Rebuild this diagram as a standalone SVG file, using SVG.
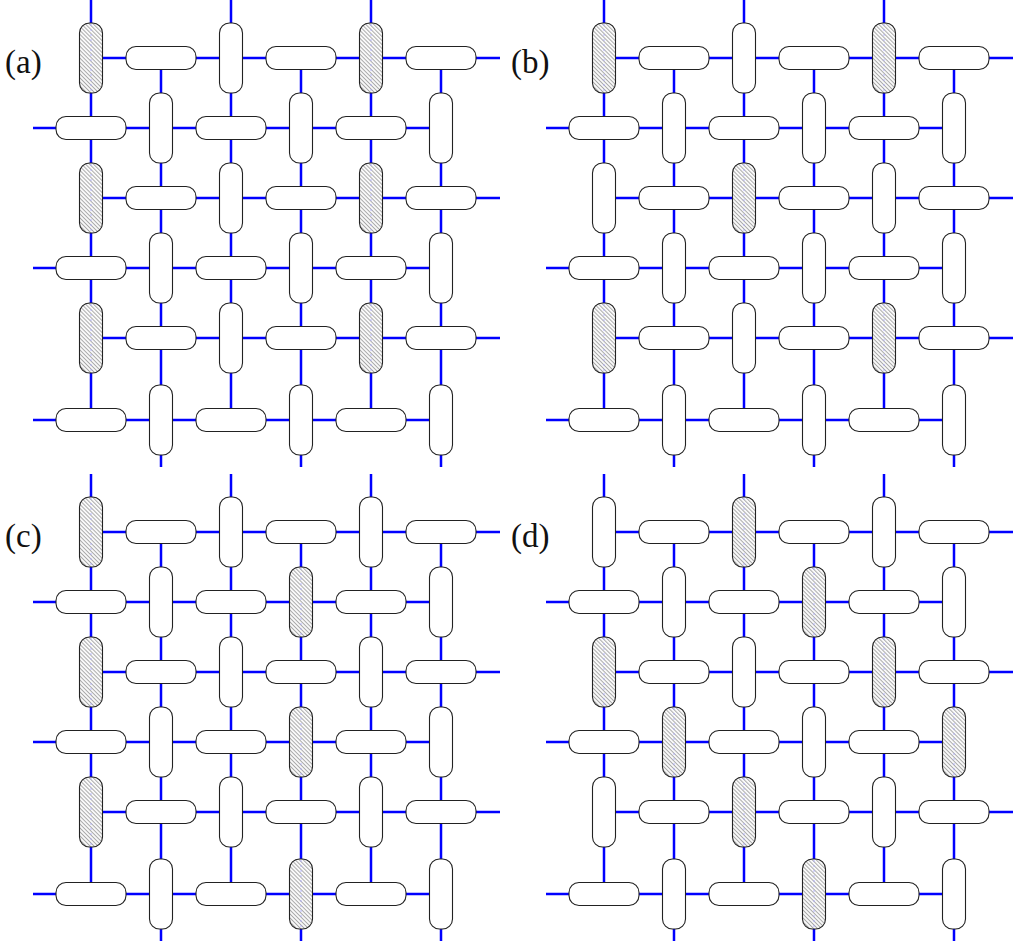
<svg xmlns="http://www.w3.org/2000/svg" xmlns:xlink="http://www.w3.org/1999/xlink" width="1013" height="944" viewBox="0 0 1013 944">
<style>
.w{fill:none;stroke:#0000ff;stroke-width:2.5}
.n{fill:#fff;stroke:#222;stroke-width:1.1}
.s{fill:url(#hatch);stroke:#222;stroke-width:1.1}
.f{fill:none;stroke:#a8a8ff;stroke-width:0.8;stroke-dasharray:2 3}
.lbl{font-family:"Liberation Serif","DejaVu Serif",serif;font-size:33px;fill:#111}
</style>
<defs>
<pattern id="hatch" patternUnits="userSpaceOnUse" width="2.8" height="2.8" patternTransform="rotate(-45)">
<rect width="2.8" height="2.8" fill="#fafafa"/>
<line x1="0.5" y1="0" x2="0.5" y2="2.8" stroke="#808080" stroke-width="0.65"/>
</pattern>
<rect id="h" x="-35" y="-11.5" width="70" height="23" rx="10"/>
<rect id="v" x="-11.5" y="-35" width="23" height="70" rx="10"/>
<path id="grid" d="M91 58H500M91 198H500M91 338H500M33 128H441M33 268H441M33 420H441M91 0V420M231 0V420M371 0V420M161 58V467M301 58V467M441 58V467"/>
</defs>
<rect width="1013" height="944" fill="#fff"/>
<g id="connectors">
<use href="#grid" class="w"/>
<use href="#grid" class="w" transform="translate(513,0)"/>
<use href="#grid" class="w" transform="translate(0,474)"/>
<use href="#grid" class="w" transform="translate(513,474)"/>
</g>
<g id="labels">
<text class="lbl" x="5" y="73">(a)</text>
<text class="lbl" x="511" y="73">(b)</text>
<text class="lbl" x="5" y="547">(c)</text>
<text class="lbl" x="511" y="547">(d)</text>
</g>
<g id="panel-a">
<g id="a00"><use href="#v" x="91" y="58" class="s"/><path class="f" d="M91 24V92"/></g>
<g id="a01"><use href="#h" x="161" y="58" class="n"/></g>
<g id="a02"><use href="#v" x="231" y="58" class="n"/></g>
<g id="a03"><use href="#h" x="301" y="58" class="n"/></g>
<g id="a04"><use href="#v" x="371" y="58" class="s"/><path class="f" d="M371 24V92"/></g>
<g id="a05"><use href="#h" x="441" y="58" class="n"/></g>
<g id="a10"><use href="#h" x="91" y="128" class="n"/></g>
<g id="a11"><use href="#v" x="161" y="128" class="n"/></g>
<g id="a12"><use href="#h" x="231" y="128" class="n"/></g>
<g id="a13"><use href="#v" x="301" y="128" class="n"/></g>
<g id="a14"><use href="#h" x="371" y="128" class="n"/></g>
<g id="a15"><use href="#v" x="441" y="128" class="n"/></g>
<g id="a20"><use href="#v" x="91" y="198" class="s"/><path class="f" d="M91 164V232"/></g>
<g id="a21"><use href="#h" x="161" y="198" class="n"/></g>
<g id="a22"><use href="#v" x="231" y="198" class="n"/></g>
<g id="a23"><use href="#h" x="301" y="198" class="n"/></g>
<g id="a24"><use href="#v" x="371" y="198" class="s"/><path class="f" d="M371 164V232"/></g>
<g id="a25"><use href="#h" x="441" y="198" class="n"/></g>
<g id="a30"><use href="#h" x="91" y="268" class="n"/></g>
<g id="a31"><use href="#v" x="161" y="268" class="n"/></g>
<g id="a32"><use href="#h" x="231" y="268" class="n"/></g>
<g id="a33"><use href="#v" x="301" y="268" class="n"/></g>
<g id="a34"><use href="#h" x="371" y="268" class="n"/></g>
<g id="a35"><use href="#v" x="441" y="268" class="n"/></g>
<g id="a40"><use href="#v" x="91" y="338" class="s"/><path class="f" d="M91 304V372"/></g>
<g id="a41"><use href="#h" x="161" y="338" class="n"/></g>
<g id="a42"><use href="#v" x="231" y="338" class="n"/></g>
<g id="a43"><use href="#h" x="301" y="338" class="n"/></g>
<g id="a44"><use href="#v" x="371" y="338" class="s"/><path class="f" d="M371 304V372"/></g>
<g id="a45"><use href="#h" x="441" y="338" class="n"/></g>
<g id="a50"><use href="#h" x="91" y="420" class="n"/></g>
<g id="a51"><use href="#v" x="161" y="420" class="n"/></g>
<g id="a52"><use href="#h" x="231" y="420" class="n"/></g>
<g id="a53"><use href="#v" x="301" y="420" class="n"/></g>
<g id="a54"><use href="#h" x="371" y="420" class="n"/></g>
<g id="a55"><use href="#v" x="441" y="420" class="n"/></g>
</g>
<g id="panel-b" transform="translate(513,0)">
<g id="b00"><use href="#v" x="91" y="58" class="s"/><path class="f" d="M91 24V92"/></g>
<g id="b01"><use href="#h" x="161" y="58" class="n"/></g>
<g id="b02"><use href="#v" x="231" y="58" class="n"/></g>
<g id="b03"><use href="#h" x="301" y="58" class="n"/></g>
<g id="b04"><use href="#v" x="371" y="58" class="s"/><path class="f" d="M371 24V92"/></g>
<g id="b05"><use href="#h" x="441" y="58" class="n"/></g>
<g id="b10"><use href="#h" x="91" y="128" class="n"/></g>
<g id="b11"><use href="#v" x="161" y="128" class="n"/></g>
<g id="b12"><use href="#h" x="231" y="128" class="n"/></g>
<g id="b13"><use href="#v" x="301" y="128" class="n"/></g>
<g id="b14"><use href="#h" x="371" y="128" class="n"/></g>
<g id="b15"><use href="#v" x="441" y="128" class="n"/></g>
<g id="b20"><use href="#v" x="91" y="198" class="n"/></g>
<g id="b21"><use href="#h" x="161" y="198" class="n"/></g>
<g id="b22"><use href="#v" x="231" y="198" class="s"/><path class="f" d="M231 164V232"/></g>
<g id="b23"><use href="#h" x="301" y="198" class="n"/></g>
<g id="b24"><use href="#v" x="371" y="198" class="n"/></g>
<g id="b25"><use href="#h" x="441" y="198" class="n"/></g>
<g id="b30"><use href="#h" x="91" y="268" class="n"/></g>
<g id="b31"><use href="#v" x="161" y="268" class="n"/></g>
<g id="b32"><use href="#h" x="231" y="268" class="n"/></g>
<g id="b33"><use href="#v" x="301" y="268" class="n"/></g>
<g id="b34"><use href="#h" x="371" y="268" class="n"/></g>
<g id="b35"><use href="#v" x="441" y="268" class="n"/></g>
<g id="b40"><use href="#v" x="91" y="338" class="s"/><path class="f" d="M91 304V372"/></g>
<g id="b41"><use href="#h" x="161" y="338" class="n"/></g>
<g id="b42"><use href="#v" x="231" y="338" class="n"/></g>
<g id="b43"><use href="#h" x="301" y="338" class="n"/></g>
<g id="b44"><use href="#v" x="371" y="338" class="s"/><path class="f" d="M371 304V372"/></g>
<g id="b45"><use href="#h" x="441" y="338" class="n"/></g>
<g id="b50"><use href="#h" x="91" y="420" class="n"/></g>
<g id="b51"><use href="#v" x="161" y="420" class="n"/></g>
<g id="b52"><use href="#h" x="231" y="420" class="n"/></g>
<g id="b53"><use href="#v" x="301" y="420" class="n"/></g>
<g id="b54"><use href="#h" x="371" y="420" class="n"/></g>
<g id="b55"><use href="#v" x="441" y="420" class="n"/></g>
</g>
<g id="panel-c" transform="translate(0,474)">
<g id="c00"><use href="#v" x="91" y="58" class="s"/><path class="f" d="M91 24V92"/></g>
<g id="c01"><use href="#h" x="161" y="58" class="n"/></g>
<g id="c02"><use href="#v" x="231" y="58" class="n"/></g>
<g id="c03"><use href="#h" x="301" y="58" class="n"/></g>
<g id="c04"><use href="#v" x="371" y="58" class="n"/></g>
<g id="c05"><use href="#h" x="441" y="58" class="n"/></g>
<g id="c10"><use href="#h" x="91" y="128" class="n"/></g>
<g id="c11"><use href="#v" x="161" y="128" class="n"/></g>
<g id="c12"><use href="#h" x="231" y="128" class="n"/></g>
<g id="c13"><use href="#v" x="301" y="128" class="s"/><path class="f" d="M301 94V162"/></g>
<g id="c14"><use href="#h" x="371" y="128" class="n"/></g>
<g id="c15"><use href="#v" x="441" y="128" class="n"/></g>
<g id="c20"><use href="#v" x="91" y="198" class="s"/><path class="f" d="M91 164V232"/></g>
<g id="c21"><use href="#h" x="161" y="198" class="n"/></g>
<g id="c22"><use href="#v" x="231" y="198" class="n"/></g>
<g id="c23"><use href="#h" x="301" y="198" class="n"/></g>
<g id="c24"><use href="#v" x="371" y="198" class="n"/></g>
<g id="c25"><use href="#h" x="441" y="198" class="n"/></g>
<g id="c30"><use href="#h" x="91" y="268" class="n"/></g>
<g id="c31"><use href="#v" x="161" y="268" class="n"/></g>
<g id="c32"><use href="#h" x="231" y="268" class="n"/></g>
<g id="c33"><use href="#v" x="301" y="268" class="s"/><path class="f" d="M301 234V302"/></g>
<g id="c34"><use href="#h" x="371" y="268" class="n"/></g>
<g id="c35"><use href="#v" x="441" y="268" class="n"/></g>
<g id="c40"><use href="#v" x="91" y="338" class="s"/><path class="f" d="M91 304V372"/></g>
<g id="c41"><use href="#h" x="161" y="338" class="n"/></g>
<g id="c42"><use href="#v" x="231" y="338" class="n"/></g>
<g id="c43"><use href="#h" x="301" y="338" class="n"/></g>
<g id="c44"><use href="#v" x="371" y="338" class="n"/></g>
<g id="c45"><use href="#h" x="441" y="338" class="n"/></g>
<g id="c50"><use href="#h" x="91" y="420" class="n"/></g>
<g id="c51"><use href="#v" x="161" y="420" class="n"/></g>
<g id="c52"><use href="#h" x="231" y="420" class="n"/></g>
<g id="c53"><use href="#v" x="301" y="420" class="s"/><path class="f" d="M301 386V454"/></g>
<g id="c54"><use href="#h" x="371" y="420" class="n"/></g>
<g id="c55"><use href="#v" x="441" y="420" class="n"/></g>
</g>
<g id="panel-d" transform="translate(513,474)">
<g id="d00"><use href="#v" x="91" y="58" class="n"/></g>
<g id="d01"><use href="#h" x="161" y="58" class="n"/></g>
<g id="d02"><use href="#v" x="231" y="58" class="s"/><path class="f" d="M231 24V92"/></g>
<g id="d03"><use href="#h" x="301" y="58" class="n"/></g>
<g id="d04"><use href="#v" x="371" y="58" class="n"/></g>
<g id="d05"><use href="#h" x="441" y="58" class="n"/></g>
<g id="d10"><use href="#h" x="91" y="128" class="n"/></g>
<g id="d11"><use href="#v" x="161" y="128" class="n"/></g>
<g id="d12"><use href="#h" x="231" y="128" class="n"/></g>
<g id="d13"><use href="#v" x="301" y="128" class="s"/><path class="f" d="M301 94V162"/></g>
<g id="d14"><use href="#h" x="371" y="128" class="n"/></g>
<g id="d15"><use href="#v" x="441" y="128" class="n"/></g>
<g id="d20"><use href="#v" x="91" y="198" class="s"/><path class="f" d="M91 164V232"/></g>
<g id="d21"><use href="#h" x="161" y="198" class="n"/></g>
<g id="d22"><use href="#v" x="231" y="198" class="n"/></g>
<g id="d23"><use href="#h" x="301" y="198" class="n"/></g>
<g id="d24"><use href="#v" x="371" y="198" class="s"/><path class="f" d="M371 164V232"/></g>
<g id="d25"><use href="#h" x="441" y="198" class="n"/></g>
<g id="d30"><use href="#h" x="91" y="268" class="n"/></g>
<g id="d31"><use href="#v" x="161" y="268" class="s"/><path class="f" d="M161 234V302"/></g>
<g id="d32"><use href="#h" x="231" y="268" class="n"/></g>
<g id="d33"><use href="#v" x="301" y="268" class="n"/></g>
<g id="d34"><use href="#h" x="371" y="268" class="n"/></g>
<g id="d35"><use href="#v" x="441" y="268" class="s"/><path class="f" d="M441 234V302"/></g>
<g id="d40"><use href="#v" x="91" y="338" class="n"/></g>
<g id="d41"><use href="#h" x="161" y="338" class="n"/></g>
<g id="d42"><use href="#v" x="231" y="338" class="s"/><path class="f" d="M231 304V372"/></g>
<g id="d43"><use href="#h" x="301" y="338" class="n"/></g>
<g id="d44"><use href="#v" x="371" y="338" class="n"/></g>
<g id="d45"><use href="#h" x="441" y="338" class="n"/></g>
<g id="d50"><use href="#h" x="91" y="420" class="n"/></g>
<g id="d51"><use href="#v" x="161" y="420" class="n"/></g>
<g id="d52"><use href="#h" x="231" y="420" class="n"/></g>
<g id="d53"><use href="#v" x="301" y="420" class="s"/><path class="f" d="M301 386V454"/></g>
<g id="d54"><use href="#h" x="371" y="420" class="n"/></g>
<g id="d55"><use href="#v" x="441" y="420" class="n"/></g>
</g>
</svg>
